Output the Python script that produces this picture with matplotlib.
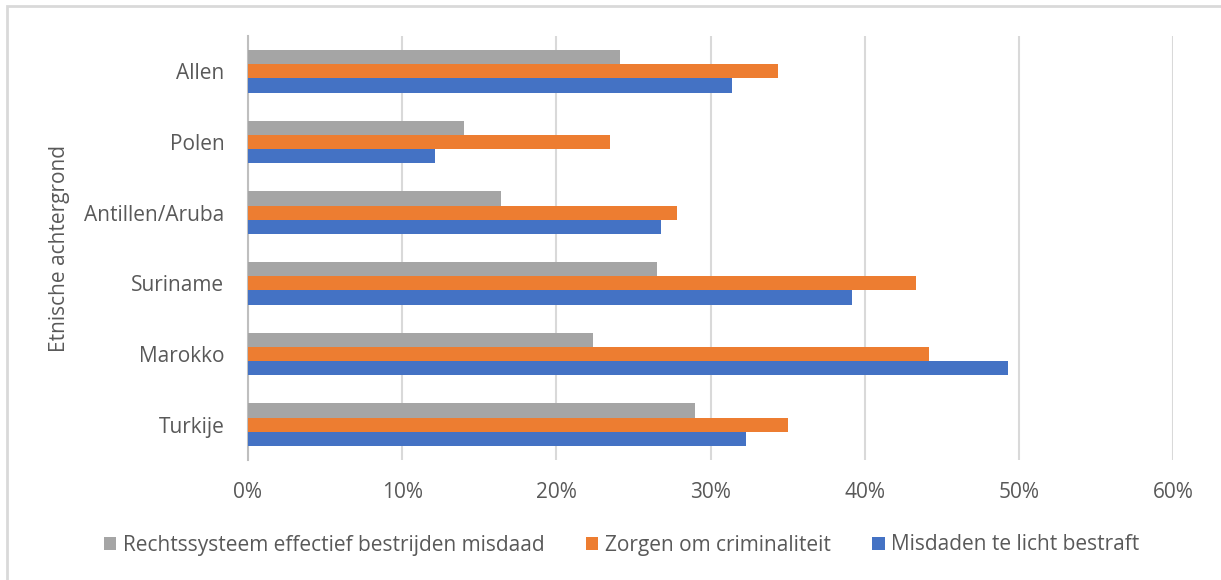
import numpy as np
import matplotlib
matplotlib.use("Agg")
import matplotlib.pyplot as plt
from matplotlib.patches import Rectangle
from matplotlib.ticker import PercentFormatter

# data (percent)
categories = ["Allen", "Polen", "Antillen/Aruba", "Suriname", "Marokko", "Turkije"]
rechtssysteem = [24.1, 14.0, 16.4, 26.5, 22.4, 29.0]
zorgen = [34.4, 23.5, 27.8, 43.3, 44.2, 35.0]
misdaden = [31.4, 12.1, 26.8, 39.2, 49.3, 32.3]

series = [
    ("Rechtssysteem effectief bestrijden misdaad", rechtssysteem, "#A5A5A5", -0.2),
    ("Zorgen om criminaliteit", zorgen, "#ED7D31", 0.0),
    ("Misdaden te licht bestraft", misdaden, "#4472C4", 0.2),
]

plt.rcParams["font.family"] = ["Open Sans", "DejaVu Sans"]
text_color = "#595959"
grid_color = "#D9D9D9"
fs = 15

fig = plt.figure(figsize=(12.21, 5.80), dpi=100)
ax = fig.add_axes([248 / 1221, 1 - 460 / 580, 925 / 1221, 424 / 580])

# outer chart frame
fig.patches.append(Rectangle((7 / 1221, -0.1), 1.2, (580 - 6) / 580 + 0.1,
                             transform=fig.transFigure, fill=False,
                             edgecolor="#D9D9D9", linewidth=2))

y = np.arange(len(categories))
handles = []
for label, vals, color, off in series:
    h = ax.barh(y + off, vals, height=0.2, color=color, label=label, zorder=3)
    handles.append(h)

ax.set_xlim(0, 60)
ax.set_ylim(len(categories) - 0.5, -0.5)
ax.set_xticks(np.arange(0, 61, 10))
ax.xaxis.set_major_formatter(PercentFormatter(decimals=0))
ax.set_yticks(y)
ax.set_yticklabels(categories)
ax.grid(axis="x", color=grid_color, linewidth=1.5, zorder=0)
ax.tick_params(length=0, colors=text_color, labelsize=fs)
ax.tick_params(axis="x", pad=16)
ax.tick_params(axis="y", pad=17)
for side in ["top", "right", "bottom"]:
    ax.spines[side].set_visible(False)
ax.spines["left"].set_color("#BFBFBF")
ax.spines["left"].set_linewidth(1.5)
ax.set_ylabel("Etnische achtergrond", color=text_color, fontsize=fs, labelpad=10)

fig.legend(handles=handles, loc="center", bbox_to_anchor=(0.509, 1 - 545 / 580),
           ncol=3, frameon=False, fontsize=fs, labelcolor=text_color,
           handlelength=0.6, handleheight=0.6, handletextpad=0.3, columnspacing=2.0)

fig.savefig("out.png", dpi=100)
